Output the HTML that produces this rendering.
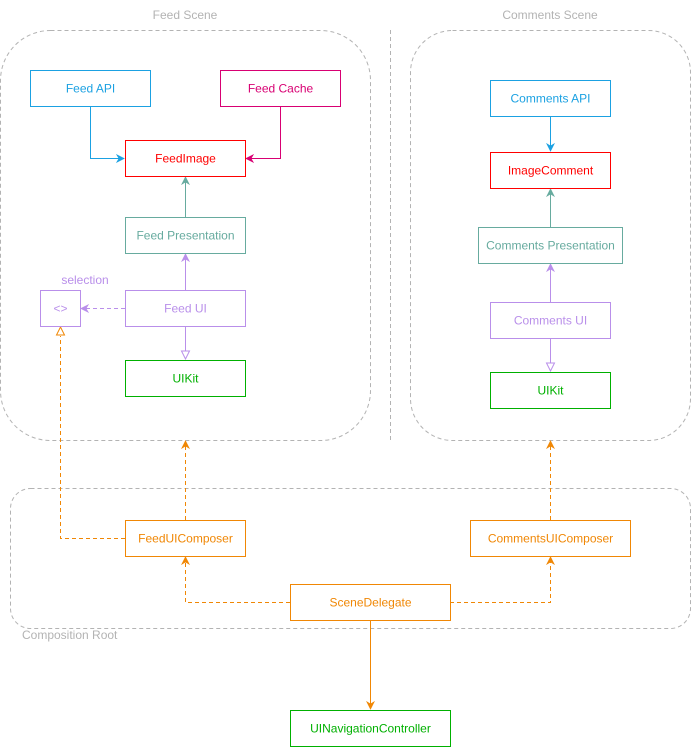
<!DOCTYPE html>
<html><head><meta charset="utf-8"><style>
html,body{margin:0;padding:0;background:#fff;}
svg{display:block;font-family:"Liberation Sans",Helvetica,Arial,sans-serif;font-size:12px;}
</style></head><body>
<svg width="692" height="747" viewBox="0 0 692 747" xmlns="http://www.w3.org/2000/svg">
<defs>
<marker id="f" viewBox="0 0 10 10" refX="9" refY="5" markerWidth="9" markerHeight="9" orient="auto-start-reverse" markerUnits="userSpaceOnUse"><path d="M0,0 L10,5 L0,10 L3,5 Z" fill="context-stroke"/></marker>
</defs>
<g fill="none" stroke="#b3b3b3" stroke-dasharray="4 3">
<rect x="0.5" y="30.5" width="370" height="410" rx="50"/>
<rect x="410.5" y="30.5" width="280" height="410" rx="42"/>
<line x1="390.5" y1="30" x2="390.5" y2="440"/>
<rect x="10.5" y="488.5" width="680" height="140" rx="20"/>
</g>
<g fill="#b3b3b3" font-size="12">
<text x="185" y="19" text-anchor="middle">Feed Scene</text>
<text x="550" y="19" text-anchor="middle">Comments Scene</text>
<text x="22" y="639">Composition Root</text>
</g>
<g fill="none" stroke-width="1">
<path d="M90.5,106 V158.5 H124" stroke="#1ba1e2" marker-end="url(#f)"/>
<path d="M280.5,106 V158.5 H246" stroke="#d80073" marker-end="url(#f)"/>
<path d="M185.5,217 V177" stroke="#67ab9f" marker-end="url(#f)"/>
<path d="M185.5,290 V254" stroke="#b98fea" marker-end="url(#f)"/>
<path d="M185.5,326 V351" stroke="#b98fea"/>
<path d="M181.5,351 L189.5,351 L185.5,359 Z" stroke="#b98fea" fill="#fff"/>
<path d="M125,308.5 H81" stroke="#b98fea" stroke-dasharray="4 3" marker-end="url(#f)"/>
<path d="M550.5,116 V151" stroke="#1ba1e2" marker-end="url(#f)"/>
<path d="M550.5,227 V189" stroke="#67ab9f" marker-end="url(#f)"/>
<path d="M550.5,302 V264" stroke="#b98fea" marker-end="url(#f)"/>
<path d="M550.5,338 V363" stroke="#b98fea"/>
<path d="M546.5,363 L554.5,363 L550.5,371 Z" stroke="#b98fea" fill="#fff"/>
<g stroke="#f08705">
<path d="M125,538.5 H60.5 V336" stroke-dasharray="4 3"/>
<path d="M56.5,335 L64.5,335 L60.5,327 Z" fill="#fff"/>
<path d="M185.5,520 V441" stroke-dasharray="4 3" marker-end="url(#f)"/>
<path d="M550.5,520 V441" stroke-dasharray="4 3" marker-end="url(#f)"/>
<path d="M290,602.5 H185.5 V557" stroke-dasharray="4 3" marker-end="url(#f)"/>
<path d="M450,602.5 H550.5 V557" stroke-dasharray="4 3" marker-end="url(#f)"/>
<path d="M370.5,620 V709" marker-end="url(#f)"/>
</g>
</g>
<g fill="#fff" stroke-width="1">
<rect x="30.5" y="70.5" width="120" height="36" stroke="#1ba1e2"/>
<rect x="220.5" y="70.5" width="120" height="36" stroke="#d80073"/>
<rect x="125.5" y="140.5" width="120" height="36" stroke="#ff0000"/>
<rect x="125.5" y="217.5" width="120" height="36" stroke="#67ab9f"/>
<rect x="125.5" y="290.5" width="120" height="36" stroke="#b98fea"/>
<rect x="40.5" y="290.5" width="40" height="36" stroke="#b98fea"/>
<rect x="125.5" y="360.5" width="120" height="36" stroke="#00b000"/>
<rect x="490.5" y="80.5" width="120" height="36" stroke="#1ba1e2"/>
<rect x="490.5" y="152.5" width="120" height="36" stroke="#ff0000"/>
<rect x="478.5" y="227.5" width="144" height="36" stroke="#67ab9f"/>
<rect x="490.5" y="302.5" width="120" height="36" stroke="#b98fea"/>
<rect x="490.5" y="372.5" width="120" height="36" stroke="#00b000"/>
<rect x="125.5" y="520.5" width="120" height="36" stroke="#f08705"/>
<rect x="470.5" y="520.5" width="160" height="36" stroke="#f08705"/>
<rect x="290.5" y="584.5" width="160" height="36" stroke="#f08705"/>
<rect x="290.5" y="710.5" width="160" height="36" stroke="#00b000"/>
</g>
<g text-anchor="middle" font-size="12">
<text x="90.5" y="92.5" fill="#1ba1e2">Feed API</text>
<text x="280.5" y="92.5" fill="#d80073">Feed Cache</text>
<text x="185.5" y="162.5" fill="#ff0000">FeedImage</text>
<text x="185.5" y="239.5" fill="#67ab9f">Feed Presentation</text>
<text x="185.5" y="312.5" fill="#b98fea">Feed UI</text>
<text x="60.5" y="312.5" fill="#b98fea">&lt;&gt;</text>
<text x="85" y="284" fill="#b98fea">selection</text>
<text x="185.5" y="382.5" fill="#00b000">UIKit</text>
<text x="550.5" y="102.5" fill="#1ba1e2">Comments API</text>
<text x="550.5" y="174.5" fill="#ff0000">ImageComment</text>
<text x="550.5" y="249.5" fill="#67ab9f">Comments Presentation</text>
<text x="550.5" y="324.5" fill="#b98fea">Comments UI</text>
<text x="550.5" y="394.5" fill="#00b000">UIKit</text>
<text x="185.5" y="542.5" fill="#f08705">FeedUIComposer</text>
<text x="550.5" y="542.5" fill="#f08705">CommentsUIComposer</text>
<text x="370.5" y="606.5" fill="#f08705">SceneDelegate</text>
<text x="370.5" y="732.5" fill="#00b000">UINavigationController</text>
</g>
</svg>
</body></html>
